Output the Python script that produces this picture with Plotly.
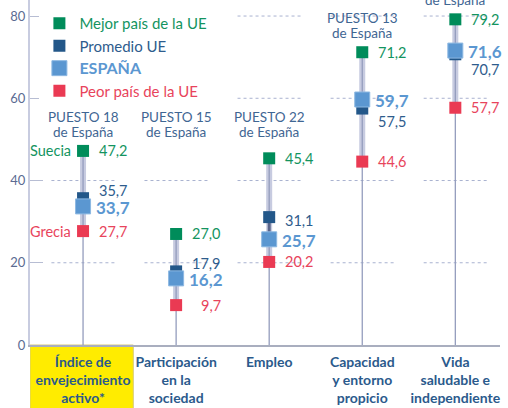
import plotly.graph_objects as go

# ---------------- data ----------------
categories = [
    "Índice de<br>envejecimiento<br>activo*",
    "Participación<br>en la<br>sociedad",
    "Empleo",
    "Capacidad<br>y entorno<br>propicio",
    "Vida<br>saludable e<br>independiente",
]
best = [47.2, 27.0, 45.4, 71.2, 79.2]       # Mejor país de la UE
average = [35.7, 17.9, 31.1, 57.5, 70.7]    # Promedio UE
spain = [33.7, 16.2, 25.7, 59.7, 71.6]      # ESPAÑA
worst = [27.7, 9.7, 20.2, 44.6, 57.7]       # Peor país de la UE
spain_rank = [18, 15, 22, 13, None]         # last one is cut off in the original
best_country = ["Suecia", None, None, None, None]
worst_country = ["Grecia", None, None, None, None]
y_ticks = [0, 20, 40, 60, 80]

# ---------------- style ----------------
FONT = "Lato"
GREEN, GREEN_T = "#008c5a", "#14945f"
NAVY, NAVY_T = "#235789", "#2e5c8d"
LBLUE = "#5b97d1"
RED, RED_T = "#ea3a53", "#e8445c"
RANK_C = "#3f6693"
CAT_C = "#2b5a8c"
avg_label_shift = [8, 8, -3, -13, -15]

def fmt(v):
    return f"{v:.1f}".replace(".", ",")

x = list(range(len(categories)))
fig = go.Figure()

# range bars (worst -> best)
bx, by = [], []
for i in x:
    bx += [i, i, None]
    by += [worst[i], best[i], None]
fig.add_trace(go.Scatter(x=bx, y=by, mode="lines", line=dict(color="#c7cbe0", width=6),
                         showlegend=False, hoverinfo="skip"))
# thin stems (0 -> best)
sx, sy = [], []
for i in x:
    sx += [i, i, None]
    sy += [0, best[i], None]
fig.add_trace(go.Scatter(x=sx, y=sy, mode="lines", line=dict(color="#949dbd", width=1.3),
                         showlegend=False, hoverinfo="skip"))
# dark segment between average and Spain
dx, dy = [], []
for i in x:
    dx += [i, i, None]
    dy += [average[i], spain[i], None]
fig.add_trace(go.Scatter(x=dx, y=dy, mode="lines", line=dict(color="#59648a", width=3),
                         showlegend=False, hoverinfo="skip"))

fig.add_trace(go.Scatter(x=x, y=best, mode="markers", name=f"<span style='color:{GREEN_T}'>Mejor país de la UE</span>",
                         marker=dict(symbol="square", size=12, color=GREEN, line=dict(width=0))))
fig.add_trace(go.Scatter(x=x, y=average, mode="markers", name=f"<span style='color:{NAVY_T}'>Promedio UE</span>",
                         marker=dict(symbol="square", size=12, color=NAVY, line=dict(width=0))))
fig.add_trace(go.Scatter(x=x, y=spain, mode="markers",
                         name=f"<b><span style='color:{LBLUE};font-size:16px'>ESPAÑA</span></b>",
                         marker=dict(symbol="square", size=15, color=LBLUE, line=dict(width=1, color="#8db8e2"))))
fig.add_trace(go.Scatter(x=x, y=worst, mode="markers", name=f"<span style='color:{RED_T}'>Peor país de la UE</span>",
                         marker=dict(symbol="square", size=12, color=RED, line=dict(width=0))))

ann = []
for i in x:
    ann.append(dict(x=i, y=best[i], text=fmt(best[i]), xanchor="right", xshift=47, yshift=0,
                    font=dict(family=FONT, size=14.5, color=GREEN_T)))
    ann.append(dict(x=i, y=average[i], text=fmt(average[i]), xanchor="right", xshift=47, yshift=avg_label_shift[i],
                    font=dict(family=FONT, size=14.5, color=NAVY_T)))
    ann.append(dict(x=i, y=spain[i], text="<b>" + fmt(spain[i]) + "</b>", xanchor="right", xshift=49, yshift=-1,
                    font=dict(family=FONT, size=17, color=LBLUE)))
    ann.append(dict(x=i, y=worst[i], text=fmt(worst[i]), xanchor="right", xshift=47, yshift=0,
                    font=dict(family=FONT, size=14.5, color=RED_T)))
    if best_country[i]:
        ann.append(dict(x=i, y=best[i], text=best_country[i], xanchor="right", xshift=-10,
                        font=dict(family=FONT, size=14.5, color=GREEN_T)))
    if worst_country[i]:
        ann.append(dict(x=i, y=worst[i], text=worst_country[i], xanchor="right", xshift=-10,
                        font=dict(family=FONT, size=14.5, color=RED_T)))
    ry = max(best[i], best[0])
    ann.append(dict(x=i, y=ry, text="de España", xanchor="center", yshift=19,
                    font=dict(family=FONT, size=13.5, color=RANK_C)))
    if spain_rank[i] is not None:
        ann.append(dict(x=i, y=ry, text=f"PUESTO {spain_rank[i]}", xanchor="center", yshift=34,
                        font=dict(family=FONT, size=13.5, color=RANK_C)))
for a in ann:
    a.update(xref="x", yref="y", showarrow=False, yanchor="middle")

shapes = []
# yellow box behind first category label
shapes.append(dict(type="rect", xref="x", yref="paper", x0=-0.57, x1=0.54, y0=-0.3, y1=0,
                   fillcolor="#ffec00", line=dict(width=1, color="#d6cb7a"), layer="below"))
# dotted gridline segments per column
for i in x:
    for t in y_ticks[1:]:
        shapes.append(dict(type="line", xref="x", yref="y", x0=i - 0.34, x1=i + 0.36, y0=t, y1=t,
                           line=dict(color="#a9b2d0", width=1, dash="dot"), layer="below"))

fig.update_layout(
    width=508, height=408,
    margin=dict(l=30, r=8, t=0, b=63),
    paper_bgcolor="white", plot_bgcolor="white",
    font=dict(family=FONT),
    showlegend=True,
    legend=dict(x=0.02, y=0.98, xanchor="left", yanchor="top", bgcolor="white",
                font=dict(family=FONT, size=15), tracegroupgap=0, itemclick=False),
    annotations=ann,
    shapes=shapes,
    xaxis=dict(range=[-0.57, 4.48], tickvals=x, ticktext=["<b>" + c + "</b>" for c in categories],
               showgrid=False, zeroline=False, showline=True, linecolor="#a9aebf", linewidth=2,
               ticks="", tickfont=dict(family=FONT, size=14, color=CAT_C), fixedrange=True,
               automargin=False, ticklabelstandoff=3),
    yaxis=dict(range=[0, 83.9], tickvals=y_ticks, showgrid=False, zeroline=False, showline=True,
               linecolor="#c8cce0", linewidth=2, ticks="inside", ticklen=13, tickcolor="#b7bdd3",
               tickwidth=1, tickfont=dict(family=FONT, size=13, color="#5b6b92"), fixedrange=True,
               automargin=False),
)

fig.write_html("out.html", config={"displayModeBar": False},
               post_script="document.body.style.margin='0';")
